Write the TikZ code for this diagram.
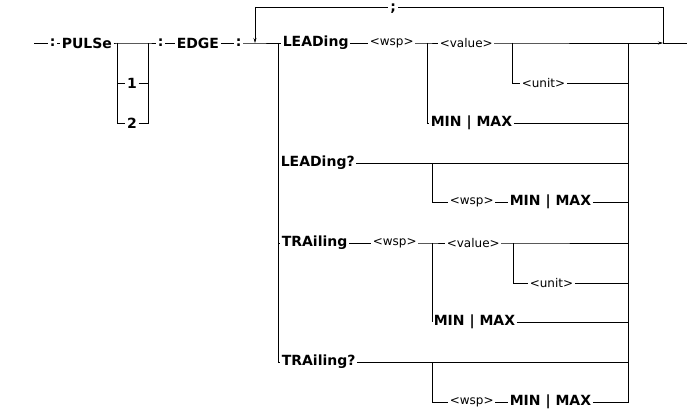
\documentclass[tikz,border=0pt]{standalone}
\usepackage{fontspec}
\setmainfont{DejaVu Sans}
\usetikzlibrary{positioning,calc,arrows.meta}
\tikzset{>=stealth}
\tikzset{
  kw/.style={anchor=west,inner sep=1.5pt,font=\bfseries\fontsize{14}{16}\selectfont},
  arg/.style={anchor=west,inner sep=1.5pt,font=\fontsize{12}{14}\selectfont},
  tip/.style={-{Stealth[length=5pt,width=3pt]}},
}

\begin{document}
\begin{tikzpicture}[x=1pt,y=-1pt,line width=.6pt]
\useasboundingbox (0,0) rectangle (687,409);
% header: PULSe and EDGE
\coordinate (S) at (34,43);
\node[kw] (c1) at (48,43) {:};
\node[kw] (pulse) at (60,43) {PULSe};
\coordinate (Pa) at (117,43);
\coordinate (Pb) at (148,43);
\node[kw,anchor=center] (one) at (132,83) {1};
\node[kw,anchor=center] (two) at (132,123) {2};
\node[kw] (c2) at (156,43) {:};
\node[kw] (edge) at (175,43) {EDGE};
\node[kw] (c3) at (234,43) {:};
\draw (S) -- (c1);
\draw (c1) -- (pulse);
\draw (pulse) -- (Pa) -- (Pb) -- (c2);
\draw (Pa) |- (one) -| (Pb);
\draw (Pa) |- (two) -| (Pb);
\draw (c2) -- (edge);
\draw (edge) -- (c3);
% repeat loop
\coordinate (L) at (255,43);
\coordinate (Lt) at (255,7);
\coordinate (Rt) at (663,7);
\coordinate (R) at (663,43);
\coordinate (E) at (687,43);
\coordinate (rail) at (278,43);
\coordinate (rr) at (628,43);
\node[kw,fill=white,inner sep=2pt] (semi) at (388,9) {;};
\draw (Lt) -- (Lt -| semi.west);
\draw (Rt -| semi.east) -- (Rt) -- (R);
\draw[tip] (Lt) -- (L);
\draw (c3) -- (L) -- (rail);
\draw[tip] (rr) -- (R);
\draw (R) -- (E);
% LEADing
\node[kw] (lead) at (281,43) {LEADing};
\node[arg] (wspA) at (368,43) {<wsp>};
\coordinate (jA) at (427,43);
\node[arg] (valA) at (438,43) {<value>};
\coordinate (kA) at (512,43);
\node[arg] (unitA) at (520,83) {<unit>};
\node[kw] (mmA) at (429,123) {MIN | MAX};
\draw (rail) -- (lead);
\draw (lead) -- (wspA);
\draw (wspA) -- (jA) -- (valA);
\draw (valA) -- (kA) -- (rr);
\draw (kA) |- (unitA);
\draw (unitA) -- (unitA -| rr);
\draw (jA) |- (mmA);
\draw (mmA) -- (mmA -| rr);
% LEADing?
\node[kw] (leadq) at (279,163) {LEADing?};
\coordinate (jB) at (432,163);
\node[arg] (wspB) at (448,202) {<wsp>};
\node[kw] (mmB) at (508,202) {MIN | MAX};
\draw (rail |- leadq) -- (leadq);
\draw (leadq) -- (leadq -| rr);
\draw (jB) |- (wspB);
\draw (wspB) -- (mmB);
\draw (mmB) -- (mmB -| rr);
% TRAiling
\node[kw] (trail) at (280,243) {TRAiling};
\node[arg] (wspC) at (371,243) {<wsp>};
\coordinate (jC) at (432,243);
\node[arg] (valC) at (445,243) {<value>};
\coordinate (kC) at (513,243);
\node[arg] (unitC) at (528,283) {<unit>};
\node[kw] (mmC) at (432,322) {MIN | MAX};
\draw (rail |- trail) -- (trail);
\draw (trail) -- (wspC);
\draw (wspC) -- (jC) -- (valC);
\draw (valC) -- (kC) -- (kC -| rr);
\draw (kC) |- (unitC);
\draw (unitC) -- (unitC -| rr);
\draw (jC) |- (mmC.west);
\draw (mmC) -- (mmC -| rr);
% TRAiling?
\node[kw] (trailq) at (280,362) {TRAiling?};
\coordinate (jD) at (432,362);
\node[arg] (wspD) at (448,402) {<wsp>};
\node[kw] (mmD) at (508,402) {MIN | MAX};
\draw (rail) |- (trailq);
\draw (trailq) -- (trailq -| rr);
\draw (jD) |- (wspD);
\draw (wspD) -- (mmD);
\draw (mmD) -| (rr);
\end{tikzpicture}
\end{document}
